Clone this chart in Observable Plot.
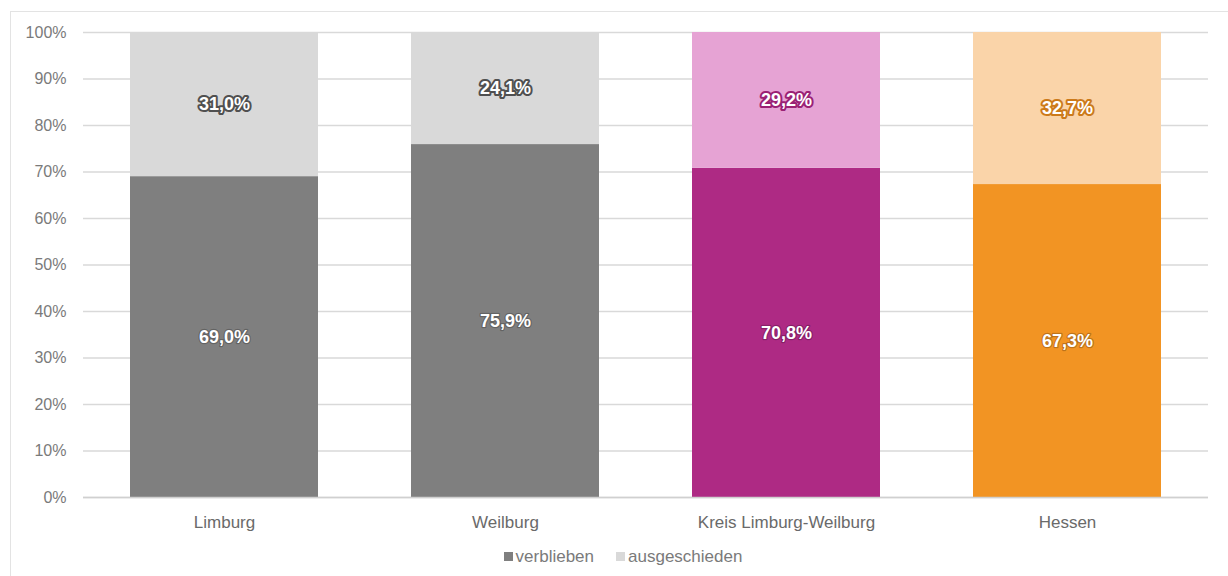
<!DOCTYPE html>
<html>
<head>
<meta charset="utf-8">
<script src="https://cdn.jsdelivr.net/npm/d3@7"></script>
<script src="https://cdn.jsdelivr.net/npm/@observablehq/plot@0.6"></script>
<style>
  html, body { margin: 0; padding: 0; background: #fff; width: 1228px; height: 576px; overflow: hidden; }
  #frame { position: absolute; left: 10px; top: 11px; width: 1240px; height: 600px; border: 1.5px solid #e3e3e3; box-sizing: border-box; }
  #chart { position: absolute; left: 0; top: 0; }
  #legend { position: absolute; left: 0; top: 546px; width: 1228px; padding-left: 18px; box-sizing: border-box; text-align: center; font-family: "Liberation Sans", Arial, sans-serif; font-size: 17px; color: #7a7a7a; line-height: 22px; }
  #legend span.sw { display: inline-block; width: 9px; height: 9px; margin-right: 3px; vertical-align: 1px; }
  #legend span.item { margin: 0 11px; }
</style>
</head>
<body>
<div id="frame"></div>
<div id="chart"></div>
<div id="legend"></div>
<script>
const regions = ["Limburg", "Weilburg", "Kreis Limburg-Weilburg", "Hessen"];
const series = ["verblieben", "ausgeschieden"];
const verblieben = [69.0, 75.9, 70.8, 67.3];
const ausgeschieden = [31.0, 24.1, 29.2, 32.7];
const yTicks = [0, 10, 20, 30, 40, 50, 60, 70, 80, 90, 100];

// colours per region: [verblieben, ausgeschieden, label outline]
const colors = {
  "Limburg": ["#7f7f7f", "#d9d9d9", "#505050"],
  "Weilburg": ["#7f7f7f", "#d9d9d9", "#505050"],
  "Kreis Limburg-Weilburg": ["#ae2a84", "#e6a3d4", "#9a2174"],
  "Hessen": ["#f29423", "#fad4a9", "#cc7a1a"]
};

const rows = [];
regions.forEach((r, i) => {
  const vals = [verblieben[i], ausgeschieden[i]];
  let base = 0;
  series.forEach((s, j) => {
    rows.push({region: r, series: s, value: vals[j], y1: base, y2: base + vals[j], idx: j});
    base += vals[j];
  });
});

const fmt = v => v.toFixed(1).replace(".", ",") + "%";
const font = `"Liberation Sans", Arial, sans-serif`;

const chart = Plot.plot({
  width: 1228,
  height: 540,
  marginTop: 32,
  marginBottom: 43,
  marginLeft: 83,
  marginRight: 20,
  style: {fontFamily: font, background: "transparent"},
  x: {domain: regions, paddingInner: 0.33, paddingOuter: 0.165, label: null, tickSize: 0, tickPadding: 18},
  y: {domain: [0, 100], ticks: yTicks, tickFormat: d => d + "%", label: null, tickSize: 0, tickPadding: 17},
  color: {type: "identity"},
  marks: [
    Plot.gridY(yTicks, {stroke: "#d9d9d9", strokeOpacity: 1, strokeWidth: 1.3}),
    Plot.axisY({ticks: yTicks, tickFormat: d => d + "%", tickSize: 0, tickPadding: 17, fontSize: 16, color: "#7a7a7a", label: null}),
    Plot.axisX({tickSize: 0, tickPadding: 18, fontSize: 17, color: "#6a6a6a", label: null}),
    Plot.barY(rows, {x: "region", y1: "y1", y2: "y2", fill: d => colors[d.region][d.idx]}),
    Plot.ruleY([0], {stroke: "#d0d0d0", strokeWidth: 1.3}),
    // lower labels (verblieben)
    Plot.text(rows.filter(d => d.idx === 0), {
      x: "region", y: d => (d.y1 + d.y2) / 2, text: d => fmt(d.value),
      fill: "#ffffff", stroke: "rgba(0,0,0,0.22)", strokeWidth: 2.5,
      fontSize: 18, fontWeight: "bold"
    }),
    // upper labels (ausgeschieden) with coloured outline
    Plot.text(rows.filter(d => d.idx === 1), {
      x: "region", y: d => (d.y1 + d.y2) / 2, text: d => fmt(d.value),
      fill: "#ffffff", stroke: d => colors[d.region][2], strokeWidth: 4,
      fontSize: 18, fontWeight: "bold"
    })
  ]
});
document.getElementById("chart").appendChild(chart);

const legend = document.getElementById("legend");
series.forEach((s, j) => {
  const item = document.createElement("span");
  item.className = "item";
  const sw = document.createElement("span");
  sw.className = "sw";
  sw.style.background = colors["Limburg"][j];
  item.appendChild(sw);
  item.appendChild(document.createTextNode(s));
  legend.appendChild(item);
});
</script>
</body>
</html>
